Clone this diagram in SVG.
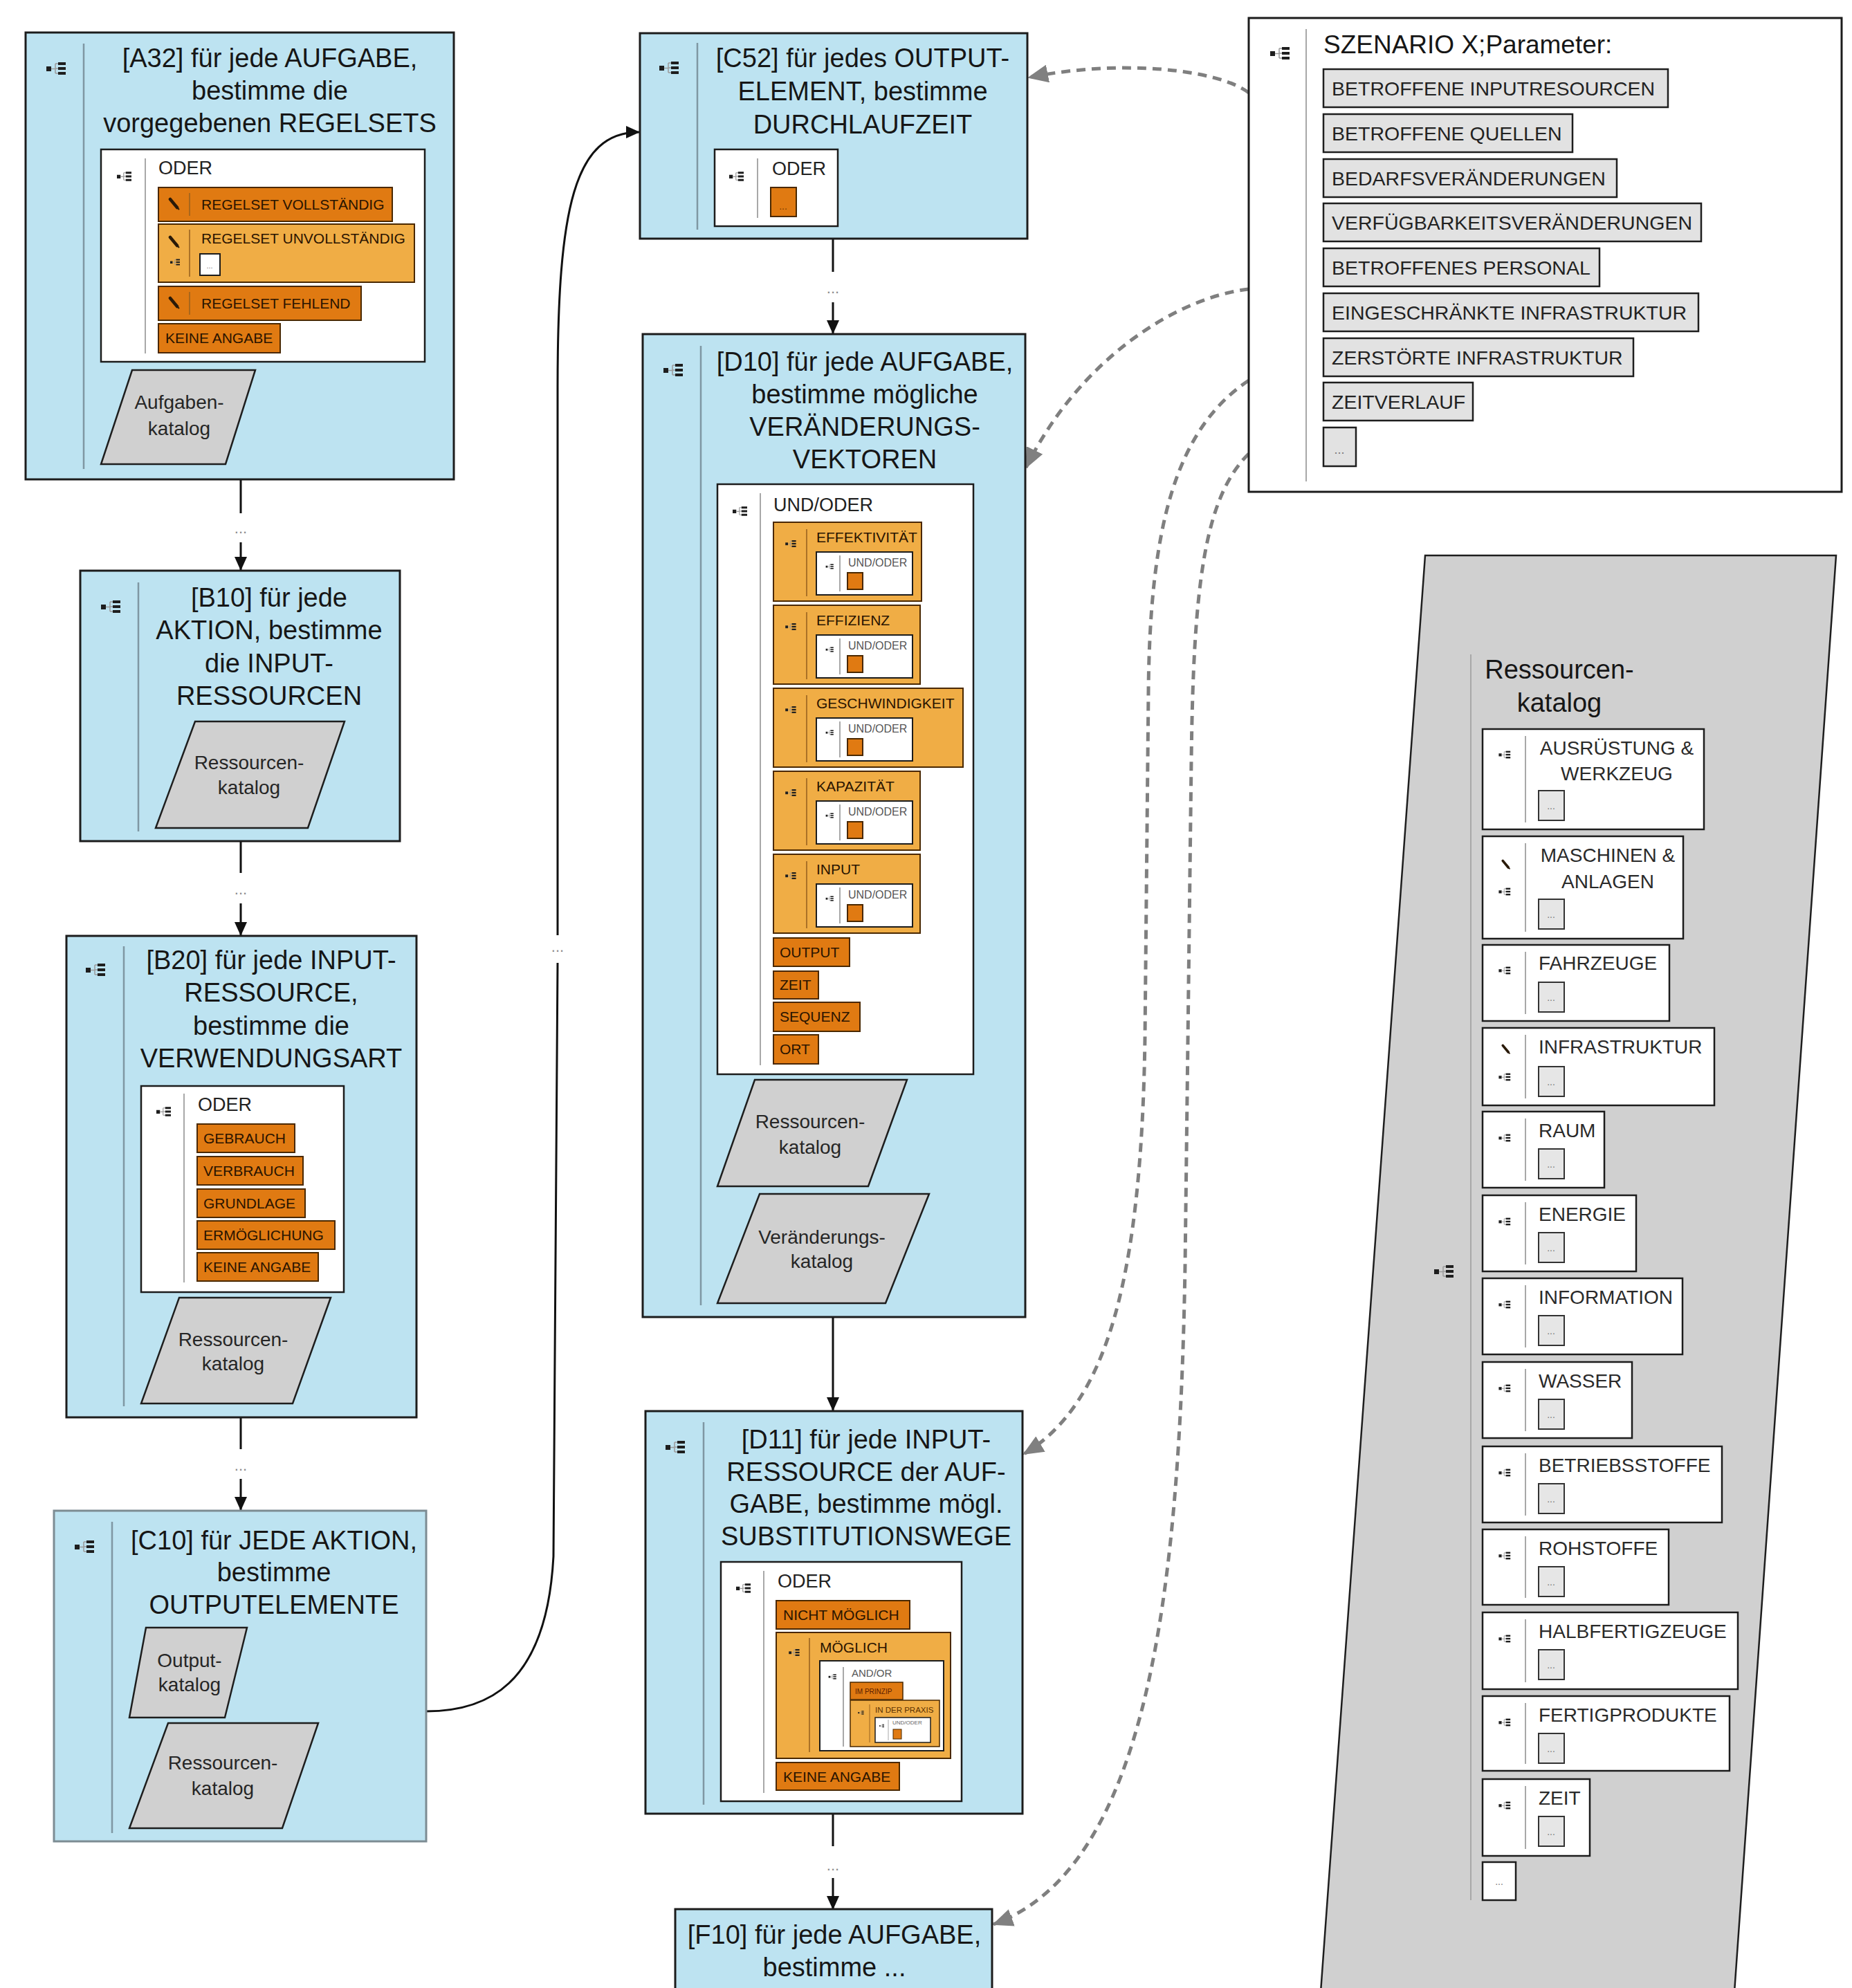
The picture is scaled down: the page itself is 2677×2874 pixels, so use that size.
<svg xmlns="http://www.w3.org/2000/svg" width="2677" height="2874" viewBox="0 0 2677 2874">
<style>
text{font-family:"Liberation Sans",Arial,sans-serif;fill:#161616}
.blue{fill:#bde3f1;stroke:#1c1c1c;stroke-width:3}
.wh{fill:#fff;stroke:#1c1c1c;stroke-width:2.5}
.dor{fill:#e07a12;stroke:#4a2800;stroke-width:2}
.lor{fill:#f0ad45;stroke:#4a2800;stroke-width:2}
.para{fill:#d0d0d0;stroke:#1e1e1e;stroke-width:2.5}
.gi{fill:#e2e2e2;stroke:#1e1e1e;stroke-width:2.5}
.dots{fill:#e6e6e6;stroke:#333;stroke-width:2}
.sep{stroke:#7f97a3;stroke-width:2.5}
.sepw{stroke:#a8a8a8;stroke-width:2}
.sepo{stroke:#9a6320;stroke-width:1.6}
.tt{font-size:38px;text-anchor:middle}
.pt{font-size:28px;text-anchor:middle;fill:#262626}
.lg{font-size:27px;fill:#222}
.ol{font-size:21px;fill:#2a1400}
.uo{font-size:16px;fill:#555}
.st{font-size:28.5px;fill:#222}
.rt{font-size:28px;fill:#2a2a2a}
.dd{font-size:14px;fill:#777}
.cd{font-size:22px;fill:#8a8a8a;text-anchor:middle}
.con{fill:none;stroke:#111;stroke-width:3}
.dash{fill:none;stroke:#7f7f7f;stroke-width:5;stroke-dasharray:13 9}
</style>
<defs>
<g id="ic">
<rect x="-16" y="-3" width="7" height="7" fill="#1e1e1e"/>
<path d="M-9,0.5 H-3 M-3,-7 V7 M-3,-7 H1 M-3,0 H1 M-3,7 H1" stroke="#9a9a9a" stroke-width="1.5" fill="none"/>
<rect x="1" y="-9" width="11" height="4" fill="#1e1e1e"/>
<rect x="1" y="-2" width="11" height="4" fill="#1e1e1e"/>
<rect x="1" y="5" width="11" height="4" fill="#1e1e1e"/>
</g>
<g id="pen">
<path d="M-6,-7 L4,5" stroke="#2a1a08" stroke-width="4.5" stroke-linecap="round"/>
<path d="M4,5 L7,8" stroke="#2a1a08" stroke-width="2"/>
</g>
<marker id="ab" viewBox="0 0 20 20" refX="19" refY="10" markerWidth="20" markerHeight="20" markerUnits="userSpaceOnUse" orient="auto"><path d="M0,1 L20,10 L0,19 z" fill="#111"/></marker>
<marker id="ag" viewBox="0 0 30 26" refX="28" refY="13" markerWidth="30" markerHeight="26" markerUnits="userSpaceOnUse" orient="auto"><path d="M0,0 L30,13 L0,26 z" fill="#808080"/></marker>
</defs>
<rect x="0" y="0" width="2677" height="2874" fill="#fff"/>

<!-- Ressourcenkatalog big parallelogram -->
<g id="ressourcenkatalog">
<polygon points="2060,803 2654,803 2507,2880 1909,2880" class="para"/>
<use href="#ic" transform="translate(2089,1838)"/>
<line x1="2126" y1="946" x2="2126" y2="2747" class="sepw"/>
<text x="2254" y="981" font-size="38px" text-anchor="middle">Ressourcen-</text>
<text x="2254" y="1029" font-size="38px" text-anchor="middle">katalog</text>
<g>
<rect x="2143" y="1054" width="320" height="145" class="wh"/>
<use href="#ic" transform="translate(2176,1091) scale(.6)"/>
<line x1="2205" y1="1064" x2="2205" y2="1189" class="sepw"/>
<text x="2337" y="1091" class="rt" text-anchor="middle">AUSRÜSTUNG &amp;</text>
<text x="2337" y="1128" class="rt" text-anchor="middle">WERKZEUG</text>
<rect x="2224" y="1143" width="37" height="43" class="dots"/><text x="2242" y="1170" class="dd" text-anchor="middle">...</text>
</g>
<g>
<rect x="2143" y="1209" width="290" height="148" class="wh"/>
<use href="#pen" transform="translate(2177,1250) scale(.8)"/>
<use href="#ic" transform="translate(2176,1289) scale(.6)"/>
<line x1="2205" y1="1219" x2="2205" y2="1347" class="sepw"/>
<text x="2324" y="1246" class="rt" text-anchor="middle">MASCHINEN &amp;</text>
<text x="2324" y="1284" class="rt" text-anchor="middle">ANLAGEN</text>
<rect x="2224" y="1300" width="37" height="43" class="dots"/><text x="2242" y="1327" class="dd" text-anchor="middle">...</text>
</g>
<g>
<rect x="2143" y="1366" width="270" height="110" class="wh"/>
<use href="#ic" transform="translate(2176,1403) scale(.6)"/>
<line x1="2205" y1="1376" x2="2205" y2="1466" class="sepw"/>
<text x="2224" y="1402" class="rt">FAHRZEUGE</text>
<rect x="2224" y="1420" width="37" height="43" class="dots"/><text x="2242" y="1447" class="dd" text-anchor="middle">...</text>
</g>
<g>
<rect x="2143" y="1486" width="335" height="112" class="wh"/>
<use href="#pen" transform="translate(2177,1517) scale(.8)"/>
<use href="#ic" transform="translate(2176,1557) scale(.6)"/>
<line x1="2205" y1="1496" x2="2205" y2="1588" class="sepw"/>
<text x="2224" y="1523" class="rt">INFRASTRUKTUR</text>
<rect x="2224" y="1542" width="37" height="43" class="dots"/><text x="2242" y="1569" class="dd" text-anchor="middle">...</text>
</g>
<g>
<rect x="2143" y="1607" width="176" height="110" class="wh"/>
<use href="#ic" transform="translate(2176,1645) scale(.6)"/>
<line x1="2205" y1="1617" x2="2205" y2="1707" class="sepw"/>
<text x="2224" y="1644" class="rt">RAUM</text>
<rect x="2224" y="1661" width="37" height="43" class="dots"/><text x="2242" y="1688" class="dd" text-anchor="middle">...</text>
</g>
<g>
<rect x="2143" y="1728" width="222" height="110" class="wh"/>
<use href="#ic" transform="translate(2176,1766) scale(.6)"/>
<line x1="2205" y1="1738" x2="2205" y2="1828" class="sepw"/>
<text x="2224" y="1765" class="rt">ENERGIE</text>
<rect x="2224" y="1782" width="37" height="43" class="dots"/><text x="2242" y="1809" class="dd" text-anchor="middle">...</text>
</g>
<g>
<rect x="2143" y="1848" width="289" height="110" class="wh"/>
<use href="#ic" transform="translate(2176,1886) scale(.6)"/>
<line x1="2205" y1="1858" x2="2205" y2="1948" class="sepw"/>
<text x="2224" y="1885" class="rt">INFORMATION</text>
<rect x="2224" y="1902" width="37" height="43" class="dots"/><text x="2242" y="1929" class="dd" text-anchor="middle">...</text>
</g>
<g>
<rect x="2143" y="1969" width="216" height="110" class="wh"/>
<use href="#ic" transform="translate(2176,2007) scale(.6)"/>
<line x1="2205" y1="1979" x2="2205" y2="2069" class="sepw"/>
<text x="2224" y="2006" class="rt">WASSER</text>
<rect x="2224" y="2023" width="37" height="43" class="dots"/><text x="2242" y="2050" class="dd" text-anchor="middle">...</text>
</g>
<g>
<rect x="2143" y="2091" width="346" height="110" class="wh"/>
<use href="#ic" transform="translate(2176,2129) scale(.6)"/>
<line x1="2205" y1="2101" x2="2205" y2="2191" class="sepw"/>
<text x="2224" y="2128" class="rt">BETRIEBSSTOFFE</text>
<rect x="2224" y="2145" width="37" height="43" class="dots"/><text x="2242" y="2172" class="dd" text-anchor="middle">...</text>
</g>
<g>
<rect x="2143" y="2211" width="269" height="109" class="wh"/>
<use href="#ic" transform="translate(2176,2249) scale(.6)"/>
<line x1="2205" y1="2221" x2="2205" y2="2310" class="sepw"/>
<text x="2224" y="2248" class="rt">ROHSTOFFE</text>
<rect x="2224" y="2265" width="37" height="43" class="dots"/><text x="2242" y="2292" class="dd" text-anchor="middle">...</text>
</g>
<g>
<rect x="2143" y="2331" width="369" height="111" class="wh"/>
<use href="#ic" transform="translate(2176,2369) scale(.6)"/>
<line x1="2205" y1="2341" x2="2205" y2="2432" class="sepw"/>
<text x="2224" y="2368" class="rt">HALBFERTIGZEUGE</text>
<rect x="2224" y="2385" width="37" height="43" class="dots"/><text x="2242" y="2412" class="dd" text-anchor="middle">...</text>
</g>
<g>
<rect x="2143" y="2452" width="357" height="108" class="wh"/>
<use href="#ic" transform="translate(2176,2490) scale(.6)"/>
<line x1="2205" y1="2462" x2="2205" y2="2550" class="sepw"/>
<text x="2224" y="2489" class="rt">FERTIGPRODUKTE</text>
<rect x="2224" y="2506" width="37" height="43" class="dots"/><text x="2242" y="2533" class="dd" text-anchor="middle">...</text>
</g>
<g>
<rect x="2143" y="2572" width="155" height="111" class="wh"/>
<use href="#ic" transform="translate(2176,2610) scale(.6)"/>
<line x1="2205" y1="2582" x2="2205" y2="2673" class="sepw"/>
<text x="2224" y="2609" class="rt">ZEIT</text>
<rect x="2224" y="2626" width="37" height="43" class="dots"/><text x="2242" y="2653" class="dd" text-anchor="middle">...</text>
</g>
<rect x="2143" y="2692" width="48" height="55" class="wh"/><text x="2167" y="2725" class="dd" text-anchor="middle">...</text>
</g>

<!-- Connectors -->
<g id="connectors">
<path d="M348,693 V742 M348,784 V824" class="con" marker-end="url(#ab)"/>
<text x="348" y="771" class="cd">...</text>
<path d="M348,1216 V1262 M348,1306 V1352" class="con" marker-end="url(#ab)"/>
<text x="348" y="1293" class="cd">...</text>
<path d="M348,2049 V2095 M348,2138 V2183" class="con" marker-end="url(#ab)"/>
<text x="348" y="2126" class="cd">...</text>
<path d="M1204,345 V393 M1204,437 V482" class="con" marker-end="url(#ab)"/>
<text x="1204" y="424" class="cd">...</text>
<path d="M1204,1904 V2039" class="con" marker-end="url(#ab)"/>
<path d="M1204,2622 V2669 M1204,2715 V2760" class="con" marker-end="url(#ab)"/>
<text x="1204" y="2704" class="cd">...</text>
<path d="M616,2474 C700,2474 790,2440 800,2250 L806,1392" class="con"/>
<text x="806" y="1376" class="cd">...</text>
<path d="M806,1352 L806,560 C806,300 830,191 924,191" class="con" marker-end="url(#ab)"/>
<path d="M1805,134 C1760,100 1620,85 1487,112" class="dash" marker-end="url(#ag)"/>
<path d="M1805,418 C1700,430 1560,520 1483,676" class="dash" marker-end="url(#ag)"/>
<path d="M1805,550 C1700,620 1662,760 1660,1000 L1655,1500 C1650,1850 1600,2030 1480,2102" class="dash" marker-end="url(#ag)"/>
<path d="M1805,656 C1740,720 1725,850 1722,1100 L1713,1830 C1705,2300 1660,2700 1436,2782" class="dash" marker-end="url(#ag)"/>
</g>

<!-- A32 -->
<g id="a32">
<rect x="37" y="47" width="619" height="646" class="blue"/>
<use href="#ic" transform="translate(83,99)"/>
<line x1="121" y1="63" x2="121" y2="678" class="sep"/>
<text x="390" y="97" class="tt">[A32] für jede AUFGABE,</text>
<text x="390" y="144" class="tt">bestimme die</text>
<text x="390" y="191" class="tt">vorgegebenen REGELSETS</text>
<rect x="146" y="216" width="468" height="307" class="wh"/>
<use href="#ic" transform="translate(181,255) scale(.75)"/>
<line x1="210" y1="229" x2="210" y2="511" class="sepw"/>
<text x="229" y="252" class="lg">ODER</text>
<rect x="229" y="271" width="338" height="49" class="dor"/>
<use href="#pen" transform="translate(252,295)"/>
<line x1="274" y1="279" x2="274" y2="312" class="sepo"/>
<text x="291" y="303" class="ol">REGELSET VOLLSTÄNDIG</text>
<rect x="229" y="324" width="370" height="84" class="lor"/>
<use href="#pen" transform="translate(252,350)"/>
<use href="#ic" transform="translate(254,379) scale(.5)"/>
<line x1="274" y1="332" x2="274" y2="400" class="sepo"/>
<text x="291" y="352" class="ol">REGELSET UNVOLLSTÄNDIG</text>
<rect x="289" y="367" width="29" height="31" class="wh" style="stroke-width:2"/>
<text x="303" y="388" class="dd" text-anchor="middle" style="font-size:11px">...</text>
<rect x="229" y="414" width="293" height="49" class="dor"/>
<use href="#pen" transform="translate(252,438)"/>
<line x1="274" y1="422" x2="274" y2="455" class="sepo"/>
<text x="291" y="446" class="ol">REGELSET FEHLEND</text>
<rect x="229" y="468" width="176" height="42" class="dor"/>
<text x="239" y="496" class="ol">KEINE ANGABE</text>
<polygon points="191,535 369,535 326,671 146,671" class="para"/>
<text x="259" y="591" class="pt">Aufgaben-</text>
<text x="259" y="629" class="pt">katalog</text>
</g>

<!-- B10 -->
<g id="b10">
<rect x="116" y="825" width="462" height="391" class="blue"/>
<use href="#ic" transform="translate(162,877)"/>
<line x1="200" y1="842" x2="200" y2="1202" class="sep"/>
<text x="389" y="877" class="tt">[B10] für jede</text>
<text x="389" y="924" class="tt">AKTION, bestimme</text>
<text x="389" y="972" class="tt">die INPUT-</text>
<text x="389" y="1019" class="tt">RESSOURCEN</text>
<polygon points="282,1043 498,1043 445,1197 225,1197" class="para"/>
<text x="360" y="1112" class="pt">Ressourcen-</text>
<text x="360" y="1148" class="pt">katalog</text>
</g>

<!-- B20 -->
<g id="b20">
<rect x="96" y="1353" width="506" height="696" class="blue"/>
<use href="#ic" transform="translate(140,1402)"/>
<line x1="179" y1="1368" x2="179" y2="2033" class="sep"/>
<text x="392" y="1401" class="tt">[B20] für jede INPUT-</text>
<text x="392" y="1448" class="tt">RESSOURCE,</text>
<text x="392" y="1496" class="tt">bestimme die</text>
<text x="392" y="1543" class="tt">VERWENDUNGSART</text>
<rect x="204" y="1570" width="293" height="298" class="wh"/>
<use href="#ic" transform="translate(238,1607) scale(.75)"/>
<line x1="266" y1="1581" x2="266" y2="1854" class="sepw"/>
<text x="286" y="1606" class="lg">ODER</text>
<rect x="285" y="1625" width="141" height="41" class="dor"/><text x="294" y="1653" class="ol">GEBRAUCH</text>
<rect x="285" y="1672" width="153" height="41" class="dor"/><text x="294" y="1700" class="ol">VERBRAUCH</text>
<rect x="285" y="1719" width="156" height="41" class="dor"/><text x="294" y="1747" class="ol">GRUNDLAGE</text>
<rect x="285" y="1765" width="199" height="41" class="dor"/><text x="294" y="1793" class="ol">ERMÖGLICHUNG</text>
<rect x="285" y="1811" width="175" height="41" class="dor"/><text x="294" y="1839" class="ol">KEINE ANGABE</text>
<polygon points="259,1876 478,1876 423,2029 204,2029" class="para"/>
<text x="337" y="1946" class="pt">Ressourcen-</text>
<text x="337" y="1981" class="pt">katalog</text>
</g>

<!-- C10 -->
<g id="c10">
<rect x="78" y="2184" width="538" height="478" class="blue" style="stroke:#7d8c93"/>
<use href="#ic" transform="translate(124,2236)"/>
<line x1="162" y1="2200" x2="162" y2="2650" class="sep"/>
<text x="396" y="2240" class="tt">[C10] für JEDE AKTION,</text>
<text x="396" y="2286" class="tt">bestimme</text>
<text x="396" y="2333" class="tt">OUTPUTELEMENTE</text>
<polygon points="211,2353 357,2353 325,2483 187,2483" class="para"/>
<text x="274" y="2410" class="pt">Output-</text>
<text x="274" y="2445" class="pt">katalog</text>
<polygon points="243,2491 460,2491 408,2643 187,2643" class="para"/>
<text x="322" y="2558" class="pt">Ressourcen-</text>
<text x="322" y="2595" class="pt">katalog</text>
</g>

<!-- C52 -->
<g id="c52">
<rect x="925" y="48" width="560" height="297" class="blue"/>
<use href="#ic" transform="translate(969,98)"/>
<line x1="1008" y1="62" x2="1008" y2="332" class="sep"/>
<text x="1247" y="97" class="tt">[C52] für jedes OUTPUT-</text>
<text x="1247" y="145" class="tt">ELEMENT, bestimme</text>
<text x="1247" y="193" class="tt">DURCHLAUFZEIT</text>
<rect x="1033" y="216" width="178" height="111" class="wh"/>
<use href="#ic" transform="translate(1066,255) scale(.75)"/>
<line x1="1095" y1="229" x2="1095" y2="315" class="sepw"/>
<text x="1116" y="253" class="lg">ODER</text>
<rect x="1114" y="271" width="37" height="42" class="dor"/>
<text x="1132" y="303" class="dd" text-anchor="middle" style="fill:#7a3a00">...</text>
</g>

<!-- D10 -->
<g id="d10">
<rect x="929" y="483" width="553" height="1421" class="blue"/>
<use href="#ic" transform="translate(975,535)"/>
<line x1="1013" y1="500" x2="1013" y2="1887" class="sep"/>
<text x="1250" y="536" class="tt">[D10] für jede AUFGABE,</text>
<text x="1250" y="583" class="tt">bestimme mögliche</text>
<text x="1250" y="630" class="tt">VERÄNDERUNGS-</text>
<text x="1250" y="677" class="tt">VEKTOREN</text>
<rect x="1037" y="700" width="370" height="853" class="wh"/>
<use href="#ic" transform="translate(1071,739) scale(.75)"/>
<line x1="1099" y1="713" x2="1099" y2="1540" class="sepw"/>
<text x="1118" y="739" class="lg">UND/ODER</text>
<g>
<rect x="1118" y="755" width="214" height="114" class="lor"/>
<use href="#ic" transform="translate(1144,786) scale(.55)"/>
<line x1="1166" y1="765" x2="1166" y2="862" class="sepo"/>
<text x="1180" y="784" class="ol">EFFEKTIVITÄT</text>
<rect x="1180" y="798" width="139" height="62" class="wh" style="stroke-width:2"/>
<use href="#ic" transform="translate(1200,819) scale(.4)"/>
<line x1="1214" y1="803" x2="1214" y2="855" class="sepw"/>
<text x="1226" y="819" class="uo">UND/ODER</text>
<rect x="1225" y="828" width="22" height="24" class="dor"/>
</g>
<g>
<rect x="1118" y="875" width="212" height="114" class="lor"/>
<use href="#ic" transform="translate(1144,906) scale(.55)"/>
<line x1="1166" y1="885" x2="1166" y2="982" class="sepo"/>
<text x="1180" y="904" class="ol">EFFIZIENZ</text>
<rect x="1180" y="918" width="139" height="62" class="wh" style="stroke-width:2"/>
<use href="#ic" transform="translate(1200,939) scale(.4)"/>
<line x1="1214" y1="923" x2="1214" y2="975" class="sepw"/>
<text x="1226" y="939" class="uo">UND/ODER</text>
<rect x="1225" y="948" width="22" height="24" class="dor"/>
</g>
<g>
<rect x="1118" y="995" width="274" height="114" class="lor"/>
<use href="#ic" transform="translate(1144,1026) scale(.55)"/>
<line x1="1166" y1="1005" x2="1166" y2="1102" class="sepo"/>
<text x="1180" y="1024" class="ol">GESCHWINDIGKEIT</text>
<rect x="1180" y="1038" width="139" height="62" class="wh" style="stroke-width:2"/>
<use href="#ic" transform="translate(1200,1059) scale(.4)"/>
<line x1="1214" y1="1043" x2="1214" y2="1095" class="sepw"/>
<text x="1226" y="1059" class="uo">UND/ODER</text>
<rect x="1225" y="1068" width="22" height="24" class="dor"/>
</g>
<g>
<rect x="1118" y="1115" width="212" height="114" class="lor"/>
<use href="#ic" transform="translate(1144,1146) scale(.55)"/>
<line x1="1166" y1="1125" x2="1166" y2="1222" class="sepo"/>
<text x="1180" y="1144" class="ol">KAPAZITÄT</text>
<rect x="1180" y="1158" width="139" height="62" class="wh" style="stroke-width:2"/>
<use href="#ic" transform="translate(1200,1179) scale(.4)"/>
<line x1="1214" y1="1163" x2="1214" y2="1215" class="sepw"/>
<text x="1226" y="1179" class="uo">UND/ODER</text>
<rect x="1225" y="1188" width="22" height="24" class="dor"/>
</g>
<g>
<rect x="1118" y="1235" width="212" height="114" class="lor"/>
<use href="#ic" transform="translate(1144,1266) scale(.55)"/>
<line x1="1166" y1="1245" x2="1166" y2="1342" class="sepo"/>
<text x="1180" y="1264" class="ol">INPUT</text>
<rect x="1180" y="1278" width="139" height="62" class="wh" style="stroke-width:2"/>
<use href="#ic" transform="translate(1200,1299) scale(.4)"/>
<line x1="1214" y1="1283" x2="1214" y2="1335" class="sepw"/>
<text x="1226" y="1299" class="uo">UND/ODER</text>
<rect x="1225" y="1308" width="22" height="24" class="dor"/>
</g>
<rect x="1118" y="1356" width="110" height="41" class="dor"/><text x="1127" y="1384" class="ol">OUTPUT</text>
<rect x="1118" y="1404" width="65" height="40" class="dor"/><text x="1127" y="1431" class="ol">ZEIT</text>
<rect x="1118" y="1449" width="125" height="42" class="dor"/><text x="1127" y="1477" class="ol">SEQUENZ</text>
<rect x="1118" y="1496" width="65" height="42" class="dor"/><text x="1127" y="1524" class="ol">ORT</text>
<polygon points="1091,1561 1311,1561 1255,1715 1037,1715" class="para"/>
<text x="1171" y="1631" class="pt">Ressourcen-</text>
<text x="1171" y="1668" class="pt">katalog</text>
<polygon points="1098,1726 1343,1726 1280,1884 1037,1884" class="para"/>
<text x="1188" y="1798" class="pt">Veränderungs-</text>
<text x="1188" y="1833" class="pt">katalog</text>
</g>

<!-- D11 -->
<g id="d11">
<rect x="933" y="2040" width="545" height="582" class="blue"/>
<use href="#ic" transform="translate(978,2092)"/>
<line x1="1017" y1="2056" x2="1017" y2="2609" class="sep"/>
<text x="1252" y="2094" class="tt">[D11] für jede INPUT-</text>
<text x="1252" y="2141" class="tt">RESSOURCE der AUF-</text>
<text x="1252" y="2187" class="tt">GABE, bestimme mögl.</text>
<text x="1252" y="2234" class="tt">SUBSTITUTIONSWEGE</text>
<rect x="1042" y="2258" width="348" height="346" class="wh"/>
<use href="#ic" transform="translate(1076,2296) scale(.75)"/>
<line x1="1104" y1="2271" x2="1104" y2="2592" class="sepw"/>
<text x="1124" y="2295" class="lg">ODER</text>
<rect x="1122" y="2314" width="193" height="41" class="dor"/><text x="1132" y="2342" class="ol">NICHT MÖGLICH</text>
<rect x="1122" y="2360" width="252" height="182" class="lor"/>
<use href="#ic" transform="translate(1149,2389) scale(.55)"/>
<line x1="1170" y1="2368" x2="1170" y2="2533" class="sepo"/>
<text x="1185" y="2389" class="ol">MÖGLICH</text>
<rect x="1185" y="2401" width="179" height="130" class="wh" style="stroke-width:2"/>
<use href="#ic" transform="translate(1204,2424) scale(.4)"/>
<line x1="1219" y1="2410" x2="1219" y2="2525" class="sepw"/>
<text x="1231" y="2424" style="font-size:15px;fill:#555">AND/OR</text>
<rect x="1229" y="2432" width="76" height="25" class="dor" style="stroke-width:1.5"/>
<text x="1236" y="2449" style="font-size:10px;fill:#5a1c00">IM PRINZIP</text>
<rect x="1229" y="2458" width="129" height="67" class="lor" style="stroke-width:1.5"/>
<use href="#ic" transform="translate(1245,2476) scale(.3)"/>
<line x1="1257" y1="2464" x2="1257" y2="2519" class="sepo" style="stroke-width:1"/>
<text x="1265" y="2476" style="font-size:11.5px;fill:#5a3000">IN DER PRAXIS</text>
<rect x="1265" y="2483" width="80" height="36" class="wh" style="stroke-width:1.5"/>
<use href="#ic" transform="translate(1275,2495) scale(.25)"/>
<line x1="1284" y1="2486" x2="1284" y2="2516" class="sepw" style="stroke-width:1"/>
<text x="1290" y="2493" style="font-size:8px;fill:#666">UND/ODER</text>
<rect x="1291" y="2500" width="12" height="14" class="dor" style="stroke-width:1"/>
<rect x="1122" y="2548" width="178" height="40" class="dor"/><text x="1132" y="2576" class="ol">KEINE ANGABE</text>
</g>

<!-- F10 -->
<g id="f10">
<rect x="976" y="2760" width="458" height="130" class="blue"/>
<text x="1206" y="2810" class="tt">[F10] für jede AUFGABE,</text>
<text x="1206" y="2857" class="tt">bestimme ...</text>
</g>

<!-- Szenario -->
<g id="szenario">
<rect x="1805" y="26" width="857" height="685" class="wh" style="stroke-width:3"/>
<use href="#ic" transform="translate(1852,77)"/>
<line x1="1888" y1="42" x2="1888" y2="696" class="sepw"/>
<text x="1913" y="77" font-size="37px">SZENARIO X;Parameter:</text>
<rect x="1913" y="100" width="498" height="55" class="gi"/><text x="1925" y="138" class="st">BETROFFENE INPUTRESOURCEN</text>
<rect x="1913" y="165" width="360" height="55" class="gi"/><text x="1925" y="203" class="st">BETROFFENE QUELLEN</text>
<rect x="1913" y="230" width="424" height="55" class="gi"/><text x="1925" y="268" class="st">BEDARFSVERÄNDERUNGEN</text>
<rect x="1913" y="294" width="546" height="55" class="gi"/><text x="1925" y="332" class="st">VERFÜGBARKEITSVERÄNDERUNGEN</text>
<rect x="1913" y="359" width="399" height="55" class="gi"/><text x="1925" y="397" class="st">BETROFFENES PERSONAL</text>
<rect x="1913" y="424" width="542" height="55" class="gi"/><text x="1925" y="462" class="st">EINGESCHRÄNKTE INFRASTRUKTUR</text>
<rect x="1913" y="489" width="448" height="55" class="gi"/><text x="1925" y="527" class="st">ZERSTÖRTE INFRASTRUKTUR</text>
<rect x="1913" y="553" width="216" height="55" class="gi"/><text x="1925" y="591" class="st">ZEITVERLAUF</text>
<rect x="1913" y="618" width="47" height="56" class="gi"/><text x="1936" y="656" class="dd" text-anchor="middle" style="font-size:18px">...</text>
</g>
</svg>
